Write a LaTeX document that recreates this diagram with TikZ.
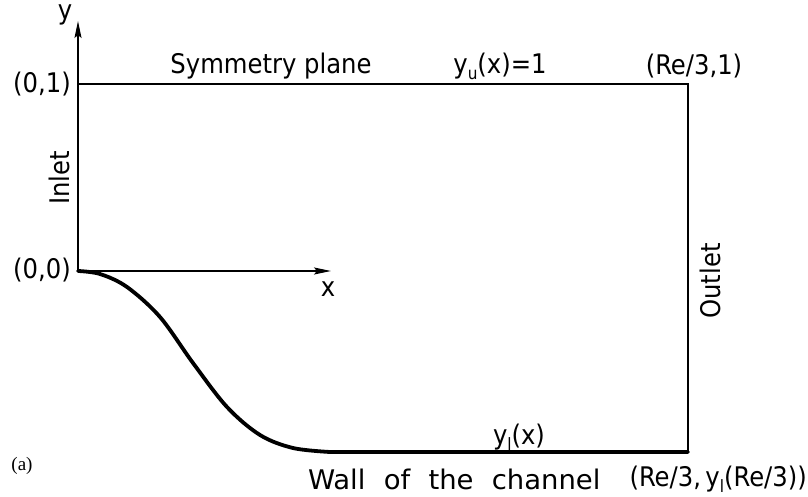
\documentclass[tikz,border=0pt]{standalone}
\usepackage{fontspec}
\setmainfont{DejaVu Sans Condensed}
\newfontfamily\capfont{Liberation Serif}
\usetikzlibrary{arrows.meta}
\tikzset{
  thinline/.style={line width=1.6pt},
  wallline/.style={line width=3.8pt, line cap=round, line join=round},
  lbl/.style={inner sep=0pt, font=\fontsize{27}{30}\selectfont},
  axtip/.style={-{Stealth[length=17pt,width=7pt,inset=3pt]}},
}
\newcommand{\sbs}[1]{\raisebox{-0.4ex}{\fontsize{17}{18}\selectfont #1}}
\newcommand{\ws}{\hspace{0.6em}}
\begin{document}
\begin{tikzpicture}[x=1pt,y=-1pt]
\useasboundingbox (0,0) rectangle (808,497);
% corners
\coordinate (O) at (78,271);
\coordinate (ytip) at (78,21);
\coordinate (xtip) at (331,271);
\coordinate (TL) at (78,84);
\coordinate (TR) at (688,84);
\coordinate (BR) at (688,452);
% axes
\draw[thinline, axtip] (O) -- (ytip);
\draw[thinline, axtip] (O) -- (xtip);
% boundary
\draw[thinline] (TL) -- (TR) -- (BR);
\draw[wallline] plot[smooth, tension=0.55] coordinates {(78,271) (100,274) (127,287) (160,317) (193,363) (227,407) (260,435) (293,448) (330,452)} -- (BR);
% labels
\node[lbl] (ly) at (65,15) {y};
\node[lbl] (lx) at (328,289) {x};
\node[lbl, anchor=east] (l01) at (71,84) {(0,1)};
\node[lbl, anchor=east] (l00) at (71,270) {(0,0)};
\node[lbl] (lsym) at (271,66) {Symmetry plane};
\node[lbl] (lyu) at (500,66) {y\sbs{u}(x)=1};
\node[lbl] (lre1) at (694,66) {(Re/3,1)};
\node[lbl, rotate=90] (linlet) at (59,178) {Inlet};
\node[lbl, rotate=90] (lout) at (710,281) {Outlet};
\node[lbl] (lyl) at (519,437) {y\sbs{l}(x)};
\node[lbl, anchor=west] (lwall) at (308,479) {\scalebox{1.13}[1]{Wall\ws of\ws the\ws channel}};
\node[lbl, anchor=east] (lre2) at (807,479) {(Re/3,\,y\sbs{l}(Re/3))};
\node[inner sep=0pt, font=\capfont\fontsize{19}{21}\selectfont] (la) at (22,466) {(a)};
\end{tikzpicture}
\end{document}
